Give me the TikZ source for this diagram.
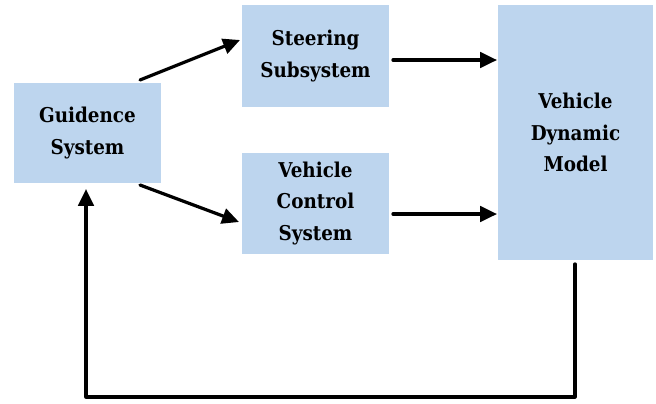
\documentclass[tikz,border=0pt]{standalone}
\usepackage{fontspec}
\setmainfont{DejaVu Serif Condensed}
\usetikzlibrary{arrows.meta}
\definecolor{boxblue}{HTML}{BDD5EE}
\begin{document}
\begin{tikzpicture}[x=0.025cm, y=-0.025cm, line cap=round, line join=round, >={Triangle[length=12pt,width=11pt]}]
			\tikzset{block/.style={fill=boxblue, align=center, inner sep=0pt, font=\bfseries\fontsize{14.5}{22.5}\selectfont},
			flow/.style={->, line width=2.3pt}}
			\useasboundingbox (0,0) rectangle (656,403);
			\node[block, minimum width=147*0.025cm, minimum height=100*0.025cm] (guide) at (87.5,133) {Guidence\\System};
			\node[block, minimum width=147*0.025cm, minimum height=102*0.025cm] (steer) at (315.5,56) {Steering\\Subsystem};
			\node[block, minimum width=147*0.025cm, minimum height=101*0.025cm] (ctrl) at (315.5,203.5) {Vehicle\\Control\\System};
			\node[block, minimum width=155*0.025cm, minimum height=255*0.025cm] (model) at (575.5,132.5) {Vehicle\\Dynamic\\Model};
			% connector ends
			\coordinate (gout1) at (140,80);
			\coordinate (gout2) at (140,185);
			\coordinate (sin) at (240,40);
			\coordinate (cin) at (239,222);
			\coordinate (sout) at (393,60);
			\coordinate (cout) at (393,214);
			\coordinate (min1) at (497,60);
			\coordinate (min2) at (497,214);
			\coordinate (mout) at (575,264);
			\coordinate (br) at (575,397);
			\coordinate (bl) at (86,397);
			\coordinate (gin) at (86,189);
			\draw[flow] (gout1) -- (sin);
			\draw[flow] (gout2) -- (cin);
			\draw[flow] (sout) -- (min1);
			\draw[flow] (cout) -- (min2);
			\draw[flow] (mout) -- (br) -- (bl) -- (gin);
		\end{tikzpicture}
\end{document}
